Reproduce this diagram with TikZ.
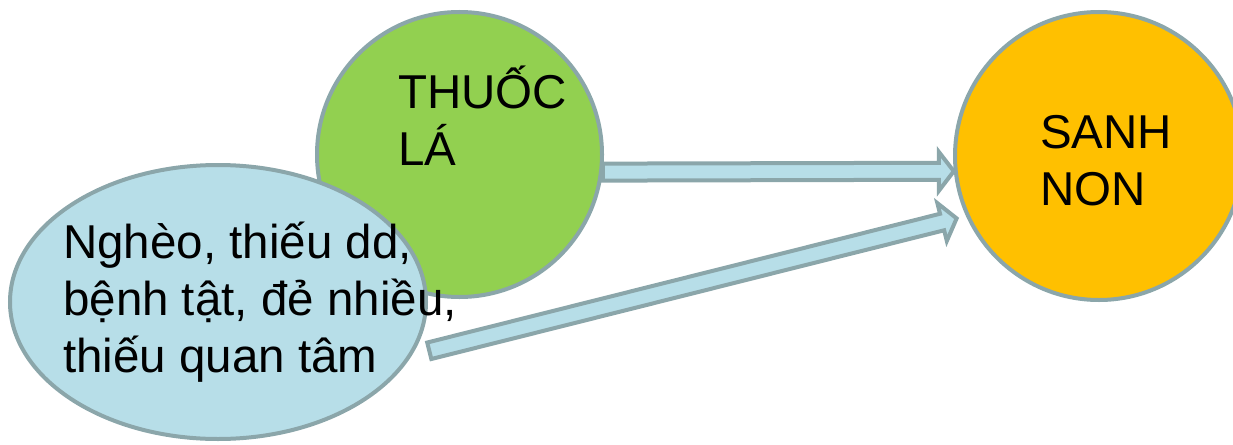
\documentclass[tikz,border=0pt]{standalone}
\usepackage{fontspec}
\setmainfont{Liberation Sans}
\usetikzlibrary{calc}
\usetikzlibrary{shapes.geometric}
\usetikzlibrary{backgrounds}
\definecolor{edgegrey}{RGB}{139,166,170}
\definecolor{leafgreen}{RGB}{146,208,80}
\definecolor{amber}{RGB}{255,192,0}
\definecolor{paleblue}{RGB}{183,222,232}
\tikzset{
  bubble/.style={draw=edgegrey, line width=4pt, inner sep=0},
  txt/.style={align=left, inner sep=0, font=\fontsize{47.5}{57}\selectfont},
  fatarrow/.style={draw=edgegrey, fill=paleblue, line width=4pt, line join=miter,
    to path={($(\tikztostart)!8.5pt!90:(\tikztotarget)$)
      -- ($(\tikztotarget)!15pt!(\tikztostart)!8.5pt!-90:(\tikztostart)$)
      -- ($(\tikztotarget)!15pt!(\tikztostart)!19.5pt!-90:(\tikztostart)$)
      -- (\tikztotarget)
      -- ($(\tikztotarget)!15pt!(\tikztostart)!19.5pt!90:(\tikztostart)$)
      -- ($(\tikztotarget)!15pt!(\tikztostart)!8.5pt!90:(\tikztostart)$)
      -- ($(\tikztostart)!8.5pt!-90:(\tikztotarget)$) -- cycle}}
}

\begin{document}
\begin{tikzpicture}[x=1pt,y=-1pt]
\useasboundingbox (0,0) rectangle (1233,444);
% the three bubbles
\node[bubble, circle, fill=leafgreen, minimum size=285] (thuoc) at (459.5,154.5) {};
\node[bubble, ellipse, fill=paleblue, minimum width=416, minimum height=274] (ngheo) at (218,302) {};
\node[bubble, circle, fill=amber, minimum size=288] (sanh) at (1099,156) {};
% texts (base = last line)
\node[txt, anchor=base west] (thuoctxt) at ($(thuoc.center)+(-61.5,10.5)$) {THUỐC\\LÁ};
\node[txt, anchor=base west] (sanhtxt) at ($(sanh.center)+(-59,49)$) {SANH\\NON};
\node[txt, anchor=base west] (ngheotxt) at ($(ngheo.center)+(-155,70)$) {Nghèo, thiếu dd,\\bệnh tật, đẻ nhiều,\\thiếu quan tâm};
% arrows
\coordinate (ngheo-out) at ($(ngheo.-13)+(13,3)$);
\coordinate (sanh-in) at ($(sanh.204)+(-9,3)$);
\begin{scope}[on background layer]
\draw[fatarrow] (thuoc.-7) to (sanh.186);
\draw[fatarrow] (ngheo-out) to (sanh-in);
\end{scope}
\end{tikzpicture}
\end{document}
